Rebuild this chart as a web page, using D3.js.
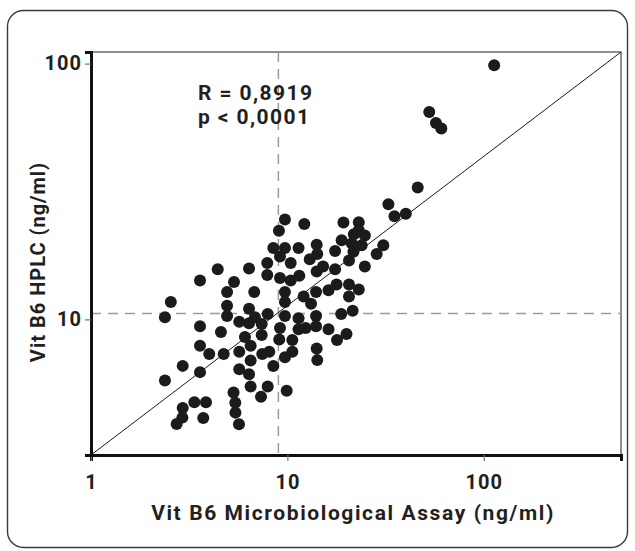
<!DOCTYPE html>
<html>
<head>
<meta charset="utf-8">
<script src="https://cdn.jsdelivr.net/npm/d3@7"></script>
<style>
  body { margin: 0; background: #fff; }
  svg text { font-family: Roboto, "DejaVu Sans", sans-serif; font-weight: 700; fill: #231f20; }
</style>
</head>
<body>
<svg id="chart" width="635" height="551"></svg>
<script>
// vitamin b6, microbiological assay (x) vs hplc (y), ng/ml
var microbio = [113, 52.8, 57.1, 60.8, 46.1, 32.7, 35.1, 40.1, 9.72, 9.06,
  12.2, 19.3, 23.1, 23.1, 24.8, 21.8, 18.9, 21.3, 23.9, 30.8,
  28.5, 17.5, 21.7, 20.6, 24.8, 17.5, 8.48, 9.72, 11.4, 14.1,
  9.17, 10.4, 13.0, 14.2, 14.1, 15.2, 7.90, 7.90, 6.38, 5.35,
  9.17, 10.4, 11.5, 6.78, 9.72, 9.72, 12.1, 13.2, 14.0, 16.2,
  17.8, 20.6, 23.1, 20.6, 6.38, 4.93, 4.93, 4.93, 5.69, 6.38,
  6.84, 7.40, 7.94, 9.72, 11.4, 14.0, 18.8, 21.5, 9.17, 11.4,
  12.4, 14.0, 16.2, 6.08, 7.40, 9.09, 10.6, 17.9, 20.0, 6.50,
  5.69, 7.45, 8.09, 10.6, 9.72, 6.50, 8.48, 14.1, 14.2, 5.69,
  6.38, 6.50, 7.94, 7.34, 9.92, 5.32, 5.43, 5.44, 5.67, 4.42,
  3.59, 2.55, 2.38, 3.59, 4.59, 3.59, 4.00, 4.74, 2.93, 3.59,
  2.38, 3.36, 3.85, 2.93, 2.92, 2.73, 3.73];

var hplc = [98.5, 64.7, 58.6, 55.7, 32.8, 28.2, 25.3, 25.9, 24.6, 22.2,
  23.6, 23.9, 24.0, 22.3, 21.3, 21.5, 20.4, 19.8, 19.5, 19.5,
  18.0, 18.5, 18.4, 17.0, 16.1, 15.7, 19.0, 19.0, 19.0, 19.6,
  17.6, 16.6, 17.2, 18.0, 15.4, 16.1, 16.6, 14.9, 15.8, 14.0,
  14.5, 14.2, 14.8, 12.8, 12.8, 11.7, 12.3, 11.5, 12.8, 13.0,
  13.7, 13.7, 13.1, 12.3, 11.0, 12.8, 11.3, 10.3, 9.79, 9.65,
  10.2, 9.59, 10.5, 10.3, 10.1, 10.3, 10.5, 10.8, 9.26, 9.15,
  9.26, 9.41, 9.15, 8.53, 8.68, 8.34, 8.30, 8.30, 8.76, 7.89,
  7.47, 7.33, 7.47, 7.47, 7.11, 6.90, 6.57, 7.70, 6.93, 6.39,
  6.10, 5.47, 5.47, 4.98, 5.26, 5.18, 4.72, 4.32, 3.89, 15.7,
  14.2, 11.7, 10.2, 9.41, 8.92, 7.89, 7.32, 7.32, 6.58, 6.22,
  5.77, 4.74, 4.74, 4.50, 4.13, 3.90, 4.12];

var xTicks = [1, 10, 100];
var yTicks = [10, 100];
var xDomain = [1, 500];
var yDomain = [2.95, 111];
// dashed reference lines (medians)
var refX = 9;
var refY = 10.55;
var stats = ['R = 0,8919', 'p < 0,0001'];
var xTitle = 'Vit B6 Microbiological Assay (ng/ml)';
var yTitle = 'Vit B6 HPLC (ng/ml)';

var margin = { left: 91, top: 52, right: 621, bottom: 455 };

var svg = d3.select('#chart');

// the rounded frame round everything
svg.append('rect')
  .attr('x', 7.5).attr('y', 10.5)
  .attr('width', 620).attr('height', 537)
  .attr('rx', 16).attr('ry', 16)
  .attr('fill', 'none')
  .attr('stroke', '#3a3a3a')
  .attr('stroke-width', 1.4);

var x = d3.scaleLog().domain(xDomain).range([margin.left, margin.right]);
var y = d3.scaleLog().domain(yDomain).range([margin.bottom, margin.top]);

var points = microbio.map(function(d, i) { return { x: d, y: hplc[i] }; });

// top and right sides, thin and grey
svg.append('path')
  .attr('d', 'M' + margin.left + ',' + margin.top + 'H' + margin.right + 'V' + margin.bottom)
  .attr('fill', 'none')
  .attr('stroke', '#6b6b6b')
  .attr('stroke-width', 1.5);

// dashed lines
svg.append('line')
  .attr('x1', x(refX)).attr('x2', x(refX))
  .attr('y1', margin.top).attr('y2', margin.bottom)
  .attr('stroke', '#9a9a9a').attr('stroke-width', 1.5)
  .attr('stroke-dasharray', '10,7');
svg.append('line')
  .attr('x1', margin.left).attr('x2', margin.right)
  .attr('y1', y(refY)).attr('y2', y(refY))
  .attr('stroke', '#9a9a9a').attr('stroke-width', 1.5)
  .attr('stroke-dasharray', '10,7');

// diagonal, corner to corner
svg.append('line')
  .attr('x1', x(xDomain[0])).attr('y1', y(yDomain[0]))
  .attr('x2', x(xDomain[1])).attr('y2', y(yDomain[1]))
  .attr('stroke', '#1a1a1a').attr('stroke-width', 1);

// the dots
svg.append('g').selectAll('circle')
  .data(points)
  .enter().append('circle')
  .attr('cx', function(d) { return x(d.x); })
  .attr('cy', function(d) { return y(d.y); })
  .attr('r', 6)
  .attr('fill', '#1c1a1b');

// axes
var xAxis = svg.append('g')
  .attr('transform', 'translate(0,' + margin.bottom + ')')
  .call(d3.axisBottom(x).tickValues(xTicks).tickFormat(d3.format('d')).tickSize(6).tickPadding(14));
var yAxis = svg.append('g')
  .attr('transform', 'translate(' + margin.left + ',0)')
  .call(d3.axisLeft(y).tickValues(yTicks).tickFormat(d3.format('d')).tickSize(6).tickPadding(3));

[xAxis, yAxis].forEach(function(ax) {
  ax.select('.domain').attr('stroke', '#111').attr('stroke-width', 3);
  ax.selectAll('.tick line').attr('stroke', '#777').attr('stroke-width', 1.2);
  ax.selectAll('.tick text')
    .attr('fill', '#231f20')
    .style('font-size', '20px')
    .style('letter-spacing', '1px')
    .style('font-family', 'Roboto, sans-serif')
    .style('font-weight', 700);
});

// stats text
svg.append('g').selectAll('text')
  .data(stats)
  .enter().append('text')
  .attr('x', 198)
  .attr('y', function(d, i) { return 100 + i * 24; })
  .style('font-size', '21px')
  .style('letter-spacing', '1.4px')
  .text(function(d) { return d; });

// titles, spaced out a bit to match the wide original face
svg.append('text')
  .attr('x', 353)
  .attr('y', 520)
  .attr('text-anchor', 'middle')
  .style('font-size', '21px')
  .style('letter-spacing', '1.6px')
  .text(xTitle);
svg.append('text')
  .attr('transform', 'translate(45,' + 262 + ') rotate(-90)')
  .attr('text-anchor', 'middle')
  .style('font-size', '20px')
  .style('letter-spacing', '1px')
  .text(yTitle);
</script>
</body>
</html>
